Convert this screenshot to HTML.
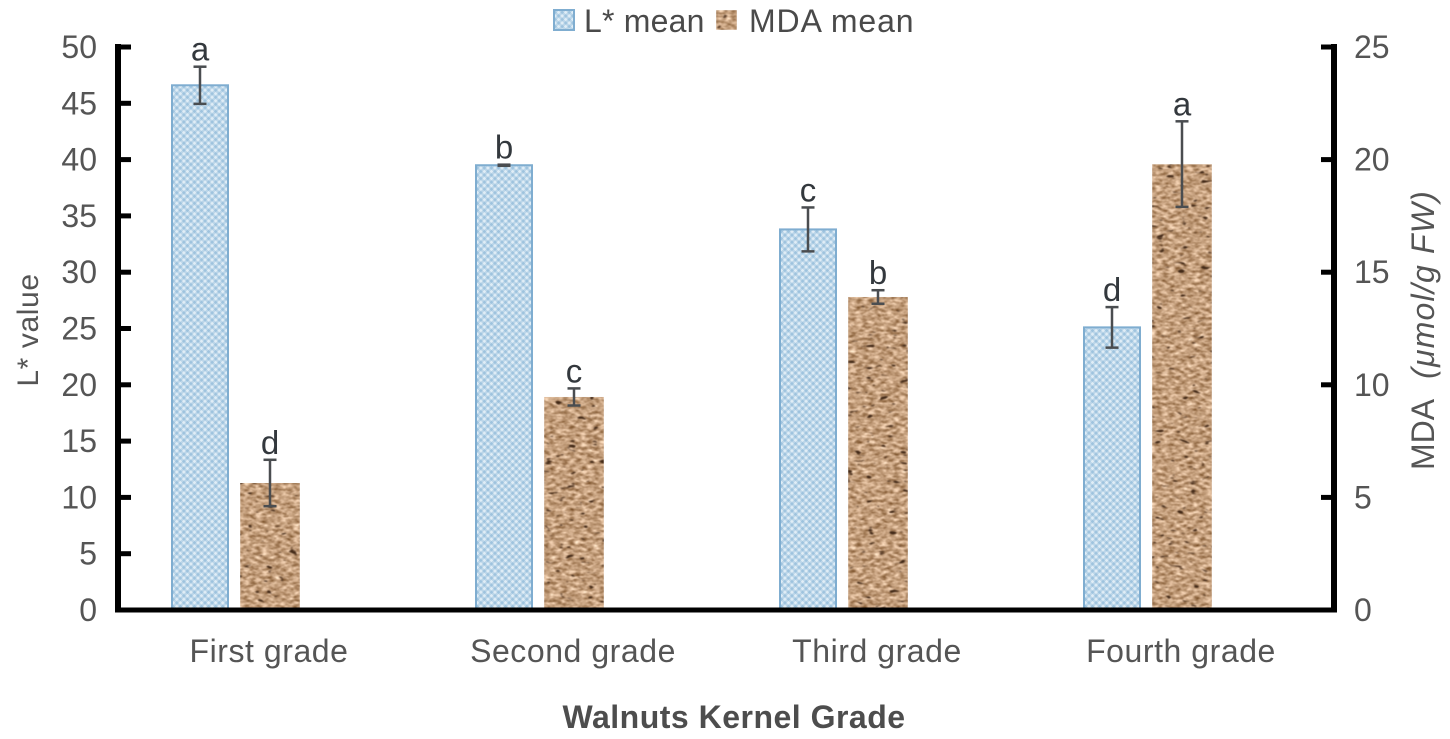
<!DOCTYPE html>
<html lang="en">
<head>
<meta charset="utf-8">
<title>Walnuts Kernel Grade chart</title>
<style>
html,body{margin:0;padding:0;background:#fff;}
svg{display:block;}
text{font-family:"Liberation Sans","DejaVu Sans",sans-serif;}
</style>
</head>
<body>
<svg id="chart" xmlns="http://www.w3.org/2000/svg" width="1450" height="739" viewBox="0 0 1450 739">
  <defs>
    <pattern id="blue-check" width="5" height="5" patternUnits="userSpaceOnUse" patternTransform="rotate(45)">
      <rect width="5" height="5" fill="#bcd6e9"/>
      <rect width="2.5" height="2.5" fill="#9ec3de"/>
      <rect x="2.5" y="2.5" width="2.5" height="2.5" fill="#e0edf6"/>
    </pattern>
    <filter id="brown-texture" x="0" y="0" width="100%" height="100%" color-interpolation-filters="sRGB">
      <feTurbulence type="fractalNoise" baseFrequency="0.16 0.34" numOctaves="3" seed="7" result="n"/>
      <feColorMatrix in="n" type="matrix" values="0.8 0 0 0 0.37  0.85 0 0 0 0.2  0.9 0 0 0 0.04  0 0 0 0 1" result="base"/>
      <feTurbulence type="fractalNoise" baseFrequency="0.09 0.2" numOctaves="2" seed="23" result="n2"/>
      <feColorMatrix in="n2" type="matrix" values="0 0 0 0 0.26  0 0 0 0 0.16  0 0 0 0 0.09  10 0 0 0 -6.9" result="specks"/>
      <feMerge result="m">
        <feMergeNode in="base"/>
        <feMergeNode in="specks"/>
      </feMerge>
      <feGaussianBlur in="m" stdDeviation="0.5" result="b"/>
      <feComposite in="b" in2="SourceGraphic" operator="in"/>
    </filter>
  </defs>
  <g id="bars"></g>
  <g id="errors"></g>
  <g id="letters"></g>
  <g id="axes"></g>
  <g>
    <rect x="554" y="10" width="20" height="20" fill="url(#blue-check)" stroke="#7fadd0" stroke-width="2"/>
    <text x="584" y="32" font-size="32" fill="#4a4a4a" letter-spacing="0.2">L* mean</text>
    <rect x="716" y="10" width="21" height="20" fill="#c49f7c" filter="url(#brown-texture)"/>
    <text x="749" y="32" font-size="32" fill="#4a4a4a" letter-spacing="0.9">MDA mean</text>
  </g>
  <text transform="translate(38,330) rotate(-90)" text-anchor="middle" font-size="30" fill="#555" letter-spacing="0.6">L* value</text>
  <text transform="translate(1434,470) rotate(-90)" text-anchor="start" font-size="32" fill="#555">MDA<tspan dx="20" font-style="italic" letter-spacing="1.2">(μmol/g FW)</tspan></text>
  <text x="734" y="728" text-anchor="middle" font-size="32" font-weight="bold" fill="#4d4d4d" letter-spacing="0.5">Walnuts Kernel Grade</text>
</svg>
<script>
const categories = ['First grade', 'Second grade', 'Third grade', 'Fourth grade'];
const lMean = [46.6, 39.5, 33.8, 25.1];
const lError = [1.65, 0.05, 1.95, 1.8];
const lLetters = ['a', 'b', 'c', 'd'];
const mdaMean = [5.64, 9.46, 13.9, 19.8];
const mdaError = [1.03, 0.38, 0.3, 1.9];
const mdaLetters = ['d', 'c', 'b', 'a'];
const leftTicks = [0, 5, 10, 15, 20, 25, 30, 35, 40, 45, 50];
const rightTicks = [0, 5, 10, 15, 20, 25];

const NS = 'http://www.w3.org/2000/svg';
const plot = { left: 118, right: 1334, top: 47, bottom: 610 };
const leftMax = 50;
const rightMax = 25;
function yLeft(v) { return plot.bottom - (v / leftMax) * (plot.bottom - plot.top); }
function yRight(v) { return plot.bottom - (v / rightMax) * (plot.bottom - plot.top); }
function xCenter(i) { return plot.left + (plot.right - plot.left) / categories.length * (i + 0.5) - 1; }

function make(parent, tag, props) {
  const el = document.createElementNS(NS, tag);
  for (const k in props) el.setAttribute(k, props[k]);
  parent.appendChild(el);
  return el;
}
const barsG = document.getElementById('bars');
const errorsG = document.getElementById('errors');
const lettersG = document.getElementById('letters');
const axesG = document.getElementById('axes');

function drawError(cx, yHi, yLo) {
  const g = make(errorsG, 'g', { stroke: '#4a4d50', 'stroke-width': 2.5, fill: 'none' });
  
  
  make(g, 'line', { x1: cx, x2: cx, y1: yHi, y2: yLo });
  make(g, 'line', { x1: cx - 6.5, x2: cx + 6.5, y1: yHi, y2: yHi });
  make(g, 'line', { x1: cx - 6.5, x2: cx + 6.5, y1: yLo, y2: yLo });
}
function drawLetter(cx, y, s) {
  const t = make(lettersG, 'text', { x: cx, y: y, 'text-anchor': 'middle', 'font-size': 33, fill: '#33383d' });
  
  
  t.textContent = s;
}

categories.forEach(function (name, i) {
  const c = xCenter(i);
  const lx = c - 97, lw = 56, mx = c - 29, mw = 60;
  const ly = yLeft(lMean[i]);
  const lBar = make(barsG, 'rect', { x: lx, y: ly, width: lw, height: plot.bottom - ly, fill: 'url(#blue-check)', stroke: '#7fadd0', 'stroke-width': 2 });
  
  
  const my = yRight(mdaMean[i]);
  const mBar = make(barsG, 'rect', { x: mx, y: my, width: mw, height: plot.bottom - my, fill: '#c49f7c', filter: 'url(#brown-texture)' });
  
  

  const lTop = yLeft(lMean[i] + lError[i]);
  drawError(lx + lw / 2, lTop, yLeft(lMean[i] - lError[i]));
  drawLetter(lx + lw / 2, lTop - 6, lLetters[i]);
  const mTop = yRight(mdaMean[i] + mdaError[i]);
  drawError(mx + mw / 2, mTop, yRight(mdaMean[i] - mdaError[i]));
  drawLetter(mx + mw / 2, mTop - 6, mdaLetters[i]);

  const lab = make(axesG, 'text', { x: c, y: 662, 'text-anchor': 'middle', 'font-size': 32, fill: '#555', 'letter-spacing': 0.55 });
  
  
  lab.textContent = name;
});

const baseLine = make(axesG, 'line', { x1: plot.left - 3, x2: plot.right + 3, y1: plot.bottom, y2: plot.bottom, stroke: '#000', 'stroke-width': 5 });


const leftLine = make(axesG, 'line', { x1: plot.left, x2: plot.left, y1: plot.top - 3, y2: plot.bottom + 2, stroke: '#000', 'stroke-width': 6 });


const rightLine = make(axesG, 'line', { x1: plot.right, x2: plot.right, y1: plot.top - 3, y2: plot.bottom + 2, stroke: '#000', 'stroke-width': 6 });



leftTicks.forEach(function (v) {
  const y = yLeft(v);
  const tick = make(axesG, 'line', { x1: plot.left, x2: 131, y1: y, y2: y, stroke: '#000', 'stroke-width': 5 });
  
  
  const t = make(axesG, 'text', { x: 97, y: y + 11, 'text-anchor': 'end', 'font-size': 32, fill: '#555' });
  
  
  t.textContent = v;
});
rightTicks.forEach(function (v) {
  const y = yRight(v);
  const tick = make(axesG, 'line', { x1: 1321, x2: plot.right, y1: y, y2: y, stroke: '#000', 'stroke-width': 5 });
  
  
  const t = make(axesG, 'text', { x: 1354, y: y + 11, 'text-anchor': 'start', 'font-size': 32, fill: '#555' });
  
  
  t.textContent = v;
});
</script>
</body>
</html>
